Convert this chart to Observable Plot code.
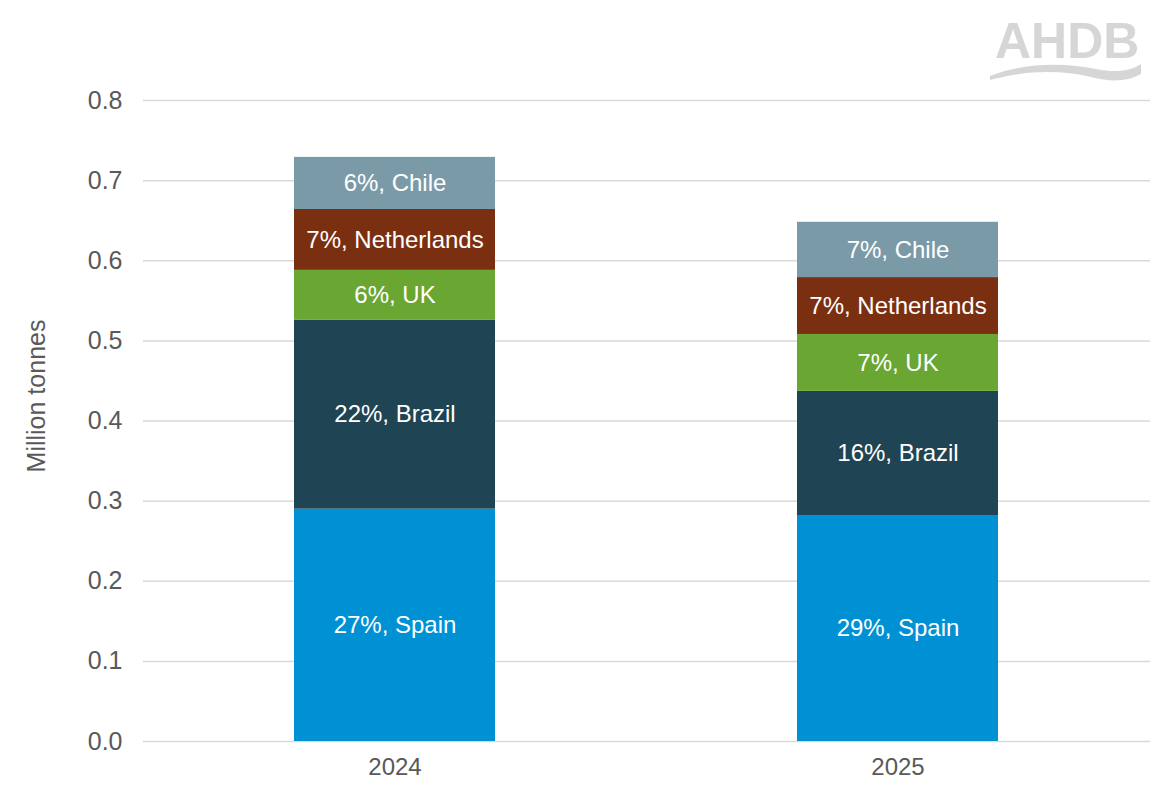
<!DOCTYPE html>
<html>
<head>
<meta charset="utf-8">
<script src="https://cdn.jsdelivr.net/npm/d3@7"></script>
<script src="https://cdn.jsdelivr.net/npm/@observablehq/plot@0.6"></script>
<style>
  html, body { margin: 0; padding: 0; background: #fff; }
  #wrap { position: relative; width: 1166px; height: 805px; font-family: "Liberation Sans", Arial, sans-serif; }
  #logo { position: absolute; left: 986px; top: 8px; width: 165px; height: 80px; }
</style>
</head>
<body>
<div id="wrap">
  <div id="chart"></div>
  <svg id="logo" viewBox="0 0 165 80">
    <text x="9" y="50" font-family="Liberation Sans, Arial, sans-serif" font-weight="bold" font-size="50" fill="#d6d6d6">AHDB</text>
    <path d="M4,68 C40,54 80,55 110,61 C130,65 145,63 155,56 L155,66 C140,74 125,74 105,69 C75,62 40,62 4,72 Z" fill="#d6d6d6"/>
  </svg>
</div>
<script>
const years = ["2024", "2025"];
const countries = ["Spain", "Brazil", "UK", "Netherlands", "Chile"];
const colors = ["#0091d5", "#1f4453", "#6aa632", "#7b2f11", "#7a9aa8"];
const values2024 = [0.290, 0.236, 0.062, 0.076, 0.065];
const values2025 = [0.282, 0.155, 0.071, 0.071, 0.069];
const shares2024 = ["27%", "22%", "6%", "7%", "6%"];
const shares2025 = ["29%", "16%", "7%", "7%", "7%"];
const yTicks = [0, 0.1, 0.2, 0.3, 0.4, 0.5, 0.6, 0.7, 0.8];

const table = [];
[[values2024, shares2024], [values2025, shares2025]].forEach(([vals, shares], i) => {
  let cum = 0;
  vals.forEach((v, j) => {
    table.push({
      year: years[i],
      country: countries[j],
      value: v,
      mid: cum + v / 2,
      label: `${shares[j]}, ${countries[j]}`
    });
    cum += v;
  });
});

const chart = Plot.plot({
  width: 1166,
  height: 805,
  marginTop: 100,
  marginBottom: 64,
  marginLeft: 143,
  marginRight: 16,
  style: { fontFamily: "Liberation Sans, Arial, sans-serif", fontSize: "24px", color: "#595959", background: "#fff" },
  x: { domain: years, paddingInner: 0.6, paddingOuter: 0.3, label: null },
  y: { domain: [0, 0.8], label: null },
  color: { domain: countries, range: colors },
  marks: [
    Plot.gridY(yTicks, { stroke: "#d9d9d9", strokeOpacity: 1, strokeWidth: 1.5 }),
    Plot.barY(table, Plot.stackY({ x: "year", y: "value", fill: "country", order: null })),
    Plot.text(table, { x: "year", y: "mid", text: "label", fill: "#fff", fontSize: 24 }),
    Plot.axisX({ tickSize: 0, tickPadding: 16, fontSize: 24, fill: "#595959", label: null }),
    Plot.axisY({ ticks: yTicks, tickFormat: d3.format(".1f"), tickSize: 0, tickPadding: 21, fontSize: 25, fill: "#595959", label: null }),
    Plot.text(["Million tonnes"], { frameAnchor: "left", textAnchor: "middle", dx: -107, dy: -25, rotate: -90, fontSize: 25, fill: "#595959" })
  ]
});
document.getElementById("chart").appendChild(chart);
</script>
</body>
</html>
